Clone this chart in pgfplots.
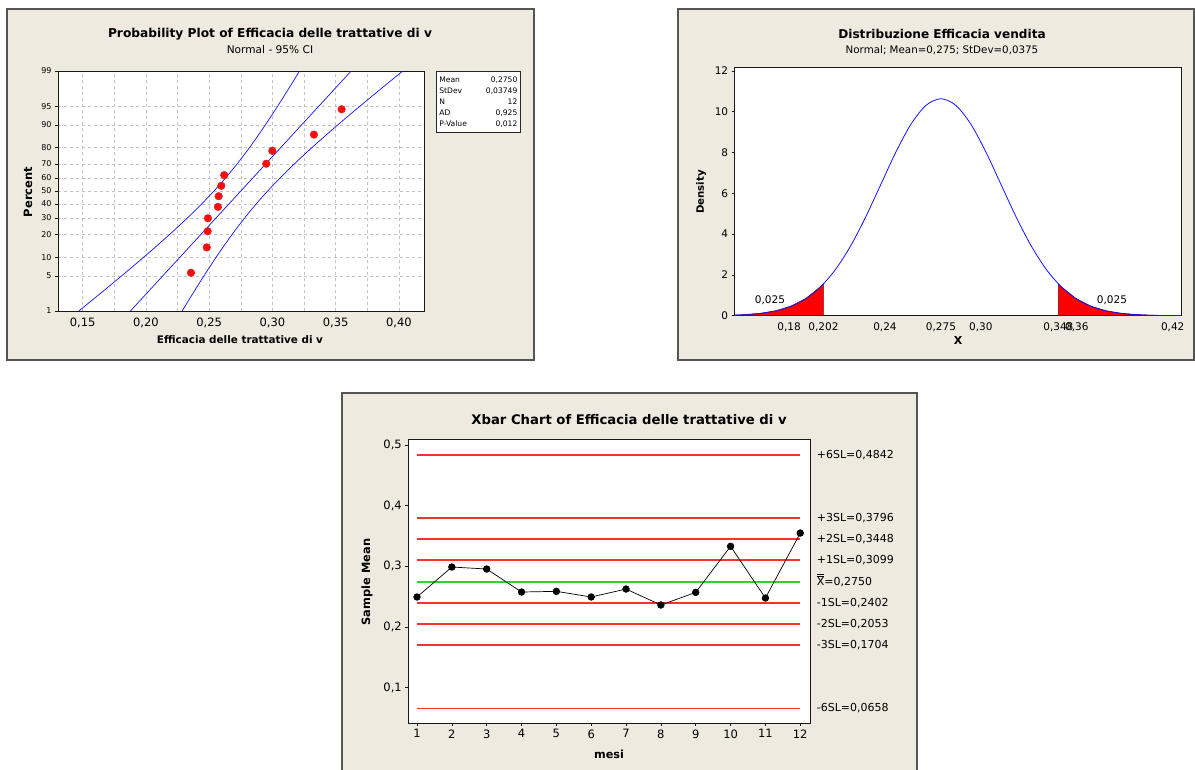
\documentclass[border=0pt]{standalone}
\usepackage{fontspec}
\setmainfont{DejaVu Sans}
\usepackage{pgfplots}
\pgfplotsset{compat=1.18}
\definecolor{panelbg}{RGB}{238,234,224}
\definecolor{panelframe}{RGB}{85,85,85}
\definecolor{mtblue}{RGB}{20,20,245}
\definecolor{mtred}{RGB}{245,15,15}
\definecolor{limred}{RGB}{245,50,50}
\definecolor{ctrgreen}{RGB}{40,215,40}
\definecolor{gridgray}{RGB}{195,195,195}
\newcommand{\fs}[1]{\fontsize{#1}{#1}\selectfont}
\newcommand{\xdbar}{\setbox0\hbox{X}\vbox{\hrule width\wd0 height0.6pt\kern1.2pt\hrule width\wd0 height0.6pt\kern0.9pt\box0}}
\tikzset{
  panel/.style={fill=panelbg, draw=panelframe, line width=1.2pt},
}
\pgfplotsset{
  mtaxis/.style={
    scale only axis, anchor=south west,
    axis background/.style={fill=white},
    axis line style={black!90, line width=0.8pt},
    tick style={black!90, line width=0.6pt},
    tick align=outside, xtick pos=left, ytick pos=left,
    major tick length=3pt, minor tick length=0pt,
  },
}
\begin{document}
\begin{tikzpicture}
\path[use as bounding box, fill=white] (0,0) rectangle (1195pt,-769pt);
% panels
\draw[panel] (7pt,-9pt) rectangle (534pt,-360pt);
\draw[panel] (678pt,-9pt) rectangle (1194pt,-360pt);
\draw[panel] (342pt,-393pt) rectangle (917pt,-772pt);

% ---------- probability plot ----------
\begin{axis}[mtaxis, at={(58pt,-311pt)}, width=366pt, height=240pt,
  xmin=0.1305, xmax=0.4198, ymin=-2.3263, ymax=2.3263,
  xtick={0.15,0.20,0.25,0.30,0.35,0.40},
  xticklabels={{0,15},{0,20},{0,25},{0,30},{0,35},{0,40}},
  minor xtick={0.175,0.225,0.275,0.325,0.375},
  xtick style={draw=none},
  ytick={-2.3263,-1.6449,-1.2816,-0.8416,-0.5244,-0.2533,0,0.2533,0.5244,0.8416,1.2816,1.6449,2.3263},
  yticklabels={1,5,10,20,30,40,50,60,70,80,90,95,99},
  grid=both, grid style={gridgray, dashed, line width=0.6pt},
  minor grid style={gridgray, dashed, line width=0.6pt},
  xticklabel style={font=\fs{11.5}},
  yticklabel style={font=\fs{8}},
]
\addplot[mtblue, line width=0.7pt] coordinates {(0.187787,-2.3263) (0.362213,2.3263)};
\addplot[mtblue, line width=0.7pt, smooth] coordinates {
  (0.146953,-2.3263) (0.155797,-2.15) (0.16328,-2) (0.175644,-1.75) (0.187843,-1.5)
  (0.199828,-1.25) (0.211531,-1) (0.222873,-0.75) (0.233756,-0.5) (0.244087,-0.25)
  (0.253788,0) (0.262832,0.25) (0.271246,0.5) (0.279108,0.75) (0.286511,1)
  (0.293553,1.25) (0.300313,1.5) (0.30686,1.75) (0.31324,2) (0.317005,2.15) (0.321379,2.3263)};
\addplot[mtblue, line width=0.7pt, smooth] coordinates {
  (0.228621,-2.3263) (0.232995,-2.15) (0.23676,-2) (0.24314,-1.75) (0.249687,-1.5)
  (0.256448,-1.25) (0.263489,-1) (0.270893,-0.75) (0.278754,-0.5) (0.287169,-0.25)
  (0.296212,0) (0.305914,0.25) (0.316244,0.5) (0.327128,0.75) (0.338469,1)
  (0.350173,1.25) (0.362157,1.5) (0.374356,1.75) (0.38672,2) (0.394203,2.15) (0.403047,2.3263)};
\addplot[only marks, mark=*, mark size=3.8pt, mtred, mark options={draw=mtred, fill=mtred}] coordinates {
  (0.2356,-1.585) (0.2481,-1.0935) (0.2488,-0.780) (0.2490,-0.529)
  (0.2569,-0.308) (0.2575,-0.1013) (0.2596,0.1013) (0.2619,0.308)
  (0.2951,0.529) (0.2999,0.780) (0.3328,1.0935) (0.3547,1.585)};
\end{axis}
\node[font=\fs{12.2}\bfseries] at (270pt,-34pt) {Probability Plot of Efficacia delle trattative di v};
\node[font=\fs{10.6}] at (270pt,-50pt) {Normal - 95\% CI};
\node[font=\fs{11.5}\bfseries, rotate=90] at (28pt,-192pt) {Percent};
\node[font=\fs{10.4}\bfseries] at (240pt,-340pt) {Efficacia delle trattative di v};
\node[draw=black!85, line width=0.7pt, fill=white, anchor=north west, inner sep=3pt,
  font=\fs{7.6}] at (436pt,-71pt) {%
  \renewcommand{\arraystretch}{1.45}%
  \begin{tabular*}{78pt}{@{}l@{\extracolsep{\fill}}r@{}}
  Mean & 0,2750\\ StDev & 0,03749\\ N & 12\\ AD & 0,925\\ P-Value & 0,012
  \end{tabular*}};

% ---------- distribution plot ----------
\begin{axis}[mtaxis, at={(734.7pt,-315.7pt)}, width=446.3pt, height=248pt,
  xmin=0.146, xmax=0.4252, ymin=0, ymax=12.16,
  ytick={0,2,4,6,8,10,12},
  yticklabels={0,2,4,6,8,10,12},
  xtick={0.18,0.2015,0.24,0.275,0.30,0.3485,0.36,0.42},
  xticklabels={{0,18},{0,202},{0,24},{0,275},{0,30},{0,348},{0,36},{0,42}},
  xtick style={draw=none},
  xticklabel style={font=\fs{10.5}},
  yticklabel style={font=\fs{10.5}},
]
\addplot[fill=red, draw=black!55!red, line width=0.6pt] coordinates {
  (0.146,0) (0.146,0.0287) (0.153125,0.0541) (0.1625,0.1182) (0.171875,0.2425)
  (0.18125,0.4674) (0.190625,0.8464) (0.2,1.4398) (0.2015,1.558) (0.2015,0)} -- cycle;
\addplot[fill=red, draw=black!55!red, line width=0.6pt] coordinates {
  (0.3485,0) (0.3485,1.558) (0.35,1.4398) (0.359375,0.8464) (0.36875,0.4674)
  (0.378125,0.2425) (0.3875,0.1182) (0.396875,0.0541) (0.40625,0.0233)
  (0.415625,0.0094) (0.4252,0.0036) (0.4252,0)} -- cycle;
\addplot[mtblue, line width=0.8pt, smooth] coordinates {
  (0.146,0.0287) (0.153125,0.0541) (0.1625,0.1182) (0.171875,0.2425) (0.18125,0.4674)
  (0.190625,0.8464) (0.2,1.4398) (0.209375,2.3007) (0.21875,3.4538) (0.228125,4.8706)
  (0.2375,6.4526) (0.246875,8.0303) (0.25625,9.3884) (0.265625,10.3111) (0.275,10.6385)
  (0.284375,10.3111) (0.29375,9.3884) (0.303125,8.0303) (0.3125,6.4526) (0.321875,4.8706)
  (0.33125,3.4538) (0.340625,2.3007) (0.35,1.4398) (0.359375,0.8464) (0.36875,0.4674)
  (0.378125,0.2425) (0.3875,0.1182) (0.396875,0.0541) (0.40625,0.0233) (0.415625,0.0094)
  (0.4252,0.0036)};
\end{axis}
\node[font=\fs{12.1}\bfseries] at (942pt,-34pt) {Distribuzione Efficacia vendita};
\node[font=\fs{10.3}] at (942pt,-50pt) {Normal; Mean=0,275; StDev=0,0375};
\node[font=\fs{10.2}\bfseries, rotate=90] at (701pt,-192pt) {Density};
\node[font=\fs{11}\bfseries] at (958pt,-340pt) {X};
\node[font=\fs{10.5}] at (770pt,-300pt) {0,025};
\node[font=\fs{10.5}] at (1112pt,-300pt) {0,025};

% ---------- Xbar chart ----------
\begin{axis}[mtaxis, at={(408.3pt,-723pt)}, width=401.7pt, height=284pt,
  xmin=0.75, xmax=12.28, ymin=0.0418, ymax=0.5099,
  xtick={1,2,3,4,5,6,7,8,9,10,11,12},
  xticklabels={1,2,3,4,5,6,7,8,9,10,11,12},
  ytick={0.1,0.2,0.3,0.4,0.5},
  yticklabels={{0,1},{0,2},{0,3},{0,4},{0,5}},
  xticklabel style={font=\fs{11.5}},
  yticklabel style={font=\fs{11.5}},
  clip=false,
]
\addplot[limred, line width=1.8pt] coordinates {(1,0.4842) (12,0.4842)};
\addplot[limred, line width=1.8pt] coordinates {(1,0.3796) (12,0.3796)};
\addplot[limred, line width=1.8pt] coordinates {(1,0.3448) (12,0.3448)};
\addplot[limred, line width=1.8pt] coordinates {(1,0.3099) (12,0.3099)};
\addplot[draw=ctrgreen, line width=2pt] coordinates {(1,0.2750) (12,0.2750)};
\addplot[limred, line width=1.8pt] coordinates {(1,0.2402) (12,0.2402)};
\addplot[limred, line width=1.8pt] coordinates {(1,0.2053) (12,0.2053)};
\addplot[limred, line width=1.8pt] coordinates {(1,0.1704) (12,0.1704)};
\addplot[limred, line width=1.8pt] coordinates {(1,0.0658) (12,0.0658)};
\addplot[black, line width=0.7pt, mark=*, mark size=3.3pt] coordinates {
  (1,0.2495) (2,0.2989) (3,0.2956) (4,0.2577) (5,0.2588) (6,0.2495)
  (7,0.2626) (8,0.2363) (9,0.2571) (10,0.3330) (11,0.2478) (12,0.3549)};
\begin{scope}[every node/.style={anchor=west, font=\fs{11}, inner sep=0pt}]
\node at (axis cs:12.47,0.4842) {+6SL=0,4842};
\node at (axis cs:12.47,0.3796) {+3SL=0,3796};
\node at (axis cs:12.47,0.3448) {+2SL=0,3448};
\node at (axis cs:12.47,0.3099) {+1SL=0,3099};
\node[anchor=base west] at ([yshift=-4pt]axis cs:12.47,0.2750) {\xdbar=0,2750};
\node at (axis cs:12.47,0.2402) {-1SL=0,2402};
\node at (axis cs:12.47,0.2053) {-2SL=0,2053};
\node at (axis cs:12.47,0.1704) {-3SL=0,1704};
\node at (axis cs:12.47,0.0658) {-6SL=0,0658};
\end{scope}
\end{axis}
\node[font=\fs{13.2}\bfseries] at (629pt,-420pt) {Xbar Chart of Efficacia delle trattative di v};
\node[font=\fs{11.4}\bfseries, rotate=90] at (367pt,-582pt) {Sample Mean};
\node[font=\fs{11.2}\bfseries] at (609pt,-754pt) {mesi};
\end{tikzpicture}
\end{document}
